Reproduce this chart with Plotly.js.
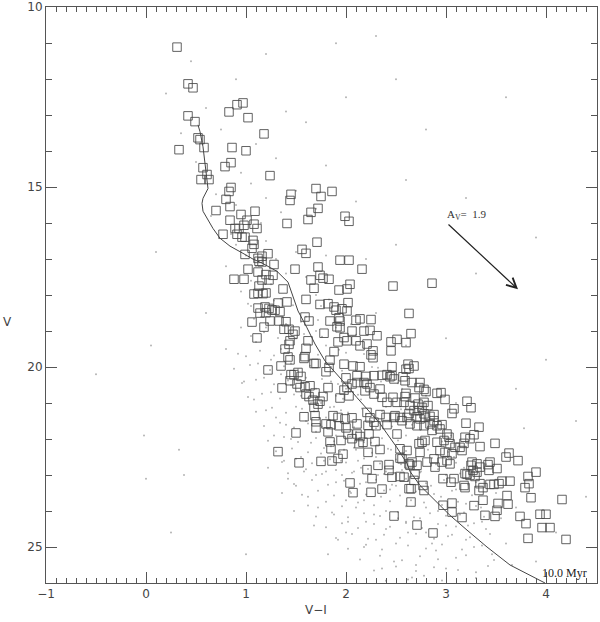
<!DOCTYPE html>
<html>
<head>
<meta charset="utf-8">
<script src="https://cdn.plot.ly/plotly-3.0.1.min.js"></script>
<style>html,body{margin:0;padding:0;background:#fff;}#chart{width:600px;height:622px;}</style>
</head>
<body>
<div id="chart"></div>
<script>
// Open squares: [V-I, V]
const squareStars = [
[0.31,11.11],[0.42,12.13],[0.47,12.24],[0.42,13.02],[0.49,13.18],[0.52,13.63],[0.54,13.68],[0.58,13.90],[0.33,13.96],
[0.83,12.91],[0.91,12.71],[0.97,12.66],[1.02,13.07],[1.18,13.52],[0.86,13.90],[1.00,13.99],[0.85,14.32],[0.79,14.43],
[0.57,14.46],[0.61,14.65],[0.55,14.79],[0.63,14.79],[1.24,14.68],[0.85,15.01],[0.83,15.12],[1.45,15.20],[1.44,15.37],
[0.80,15.34],[0.84,15.54],[0.70,15.65],[1.09,15.67],[0.95,15.76],[1.01,15.92],[0.84,15.92],[1.41,16.01],[0.89,16.15],
[0.98,16.06],[0.93,16.15],[1.08,16.03],[1.11,16.15],[1.70,15.04],[1.75,15.26],[1.86,15.12],[1.72,15.59],[1.65,15.70],
[1.62,15.90],[1.99,15.81],[2.03,15.95],[1.71,16.53],[1.56,16.73],[1.60,16.84],[1.94,17.03],[2.03,17.03],[1.49,17.28],
[1.72,17.22],[2.16,17.28],[1.74,17.45],[1.77,17.53],[1.83,17.56],[1.65,17.58],[2.04,17.70],[2.47,17.75],[2.86,17.67],
[1.68,17.81],[1.93,17.86],[2.01,17.83],[0.91,16.31],[0.96,16.39],[0.99,16.39],[1.07,16.48],[1.08,16.59],[1.06,16.70],
[0.77,16.31],[0.99,16.87],[1.12,16.98],[1.13,17.06],[1.02,17.28],[0.88,17.56],[0.98,17.56],[1.12,17.36],[1.08,17.97],
[1.12,17.95],[1.13,17.75],[1.12,18.36],[1.06,18.75],[1.11,19.19],
[1.16,16.92],[1.16,17.08],[1.22,16.85],[1.28,17.15],[1.20,17.43],[1.27,17.45],[1.16,17.58],[1.23,17.58],[1.17,17.96],
[1.20,17.94],[1.37,17.83],[1.41,18.19],[1.32,18.22],[1.19,18.33],[1.20,18.49],[1.26,18.41],[1.34,18.46],[1.23,18.37],
[1.29,18.42],[1.14,18.50],[1.18,18.89],[1.24,18.72],[1.33,18.72],[1.40,18.74],[1.43,18.95],[1.38,18.95],[1.49,19.00],
[1.47,19.09],[1.44,19.27],[1.43,19.37],[1.39,19.50],[1.42,19.72],[1.22,20.08],[1.35,19.97],[1.44,19.80],[1.48,20.21],
[1.52,20.15],[1.55,20.26],[1.36,20.58],[1.59,19.71],[1.60,19.48],[1.62,19.27],[1.58,19.76],[1.68,19.90],[1.70,19.90],
[1.45,20.21],[1.44,20.38],[1.51,20.47],[1.54,20.57],[1.59,20.55],[1.60,20.75],[1.63,20.82],[1.64,20.52],[1.69,20.72],
[1.77,20.82],[1.72,21.03],[1.74,20.95],[1.67,20.92],[1.68,21.12],[1.82,20.57],[1.58,21.38],[1.69,21.35],[1.70,21.52],
[1.80,21.58],
[1.60,18.12],[1.74,18.26],[1.82,18.24],[1.88,18.33],[1.90,18.42],[1.96,18.38],[2.02,18.21],[2.01,18.44],[1.59,18.61],
[1.63,18.72],[1.84,18.72],[1.93,18.63],[1.94,18.72],[1.94,18.91],[1.91,18.88],[1.78,19.06],[1.98,19.18],[2.01,19.27],
[1.92,19.30],[2.10,18.70],[2.14,18.66],[2.25,18.68],[2.18,19.00],[2.24,18.98],[2.31,19.13],[2.06,19.00],[2.10,19.27],
[2.14,19.41],[2.21,19.36],[2.45,19.30],[1.88,19.57],[1.84,19.81],[1.80,20.13],[1.83,20.01],[1.98,19.92],[2.07,19.97],
[2.14,19.99],[2.00,20.30],[2.11,20.24],[2.20,20.26],[2.28,20.24],[2.36,20.23],[2.41,20.21],[2.46,20.24],[2.25,19.66],
[2.27,19.74],[2.27,19.55],[2.46,19.99],[2.01,20.57],[1.98,20.64],[2.03,20.80],[1.94,20.86],[2.06,20.47],[2.11,20.43],
[2.18,20.43],[2.21,20.47],[2.19,20.66],[2.24,20.57],[2.28,20.75],[2.34,20.61],[2.36,20.84],[2.41,20.98],[2.47,20.84],
[1.87,21.35],[1.92,21.40],[1.99,21.44],[2.06,21.41],[2.21,21.26],[2.24,21.41],[2.28,21.53],[2.34,21.32],[2.40,21.40],
[2.48,21.40],[2.11,21.58],
[2.63,18.51],[2.65,19.07],[2.51,19.23],[2.60,19.32],[2.45,19.55],[2.62,19.92],[2.63,20.04],[2.68,19.97],[2.60,20.06],
[2.44,20.27],[2.48,20.33],[2.57,20.27],[2.59,20.38],[2.66,20.43],[2.74,20.43],[2.73,20.57],[2.78,20.62],[2.80,20.68],
[2.91,20.73],[2.95,20.71],[2.99,20.90],[2.60,20.73],[2.59,20.82],[2.69,20.86],[2.78,20.98],[2.72,21.03],[2.51,20.98],
[2.58,20.98],[2.64,21.07],[2.76,21.12],[2.82,21.07],[2.88,21.32],[2.84,21.37],[2.78,21.30],[2.71,21.38],[2.63,21.29],
[2.49,21.35],[2.54,21.40],[2.73,21.21],[3.08,21.16],[3.06,21.29],[3.21,20.95],[3.25,21.13],
[2.68,21.21],[2.74,21.44],[2.79,21.40],[2.88,21.49],[2.61,21.40],[2.56,21.49],[2.64,21.58],[2.71,21.63],[2.78,21.63],
[2.84,21.58],[2.91,21.63],[2.96,21.60],[2.86,21.76],[2.94,21.72],[3.01,21.86],[3.03,21.95],[2.98,22.04],[3.04,22.13],
[2.91,22.09],[2.79,22.04],[2.73,22.13],[2.76,22.09],[2.61,22.32],[2.74,22.37],[2.56,22.55],[2.66,22.64],[2.71,22.73],
[2.64,22.73],[2.81,22.64],[2.88,22.55],[2.89,22.78],[2.96,22.64],[3.01,22.60],[3.04,22.69],[2.94,22.32],[2.99,22.37],
[3.06,22.41],[3.09,22.23],[3.14,22.23],[3.16,22.32],[3.18,22.12],[3.19,21.95],[3.24,21.99],[3.20,21.56],[3.33,21.67],
[3.28,21.88],[3.34,22.21],[3.49,22.12],[3.63,22.39],[3.60,22.50],[3.72,22.60],[3.26,22.64],[3.31,22.69],[3.34,22.78],
[3.27,22.87],[3.31,22.92],[3.25,22.73],[3.19,22.96],[3.21,22.98],[3.24,23.01],[3.29,23.04],[3.42,22.71],[3.44,22.64],
[3.51,22.82],[3.43,22.87],[2.97,23.10],[3.08,23.10],[3.05,23.20],[3.18,23.29],[3.19,23.35],[3.34,23.24],[3.37,23.35],
[3.33,23.43],[3.44,23.26],[3.48,23.26],[3.53,23.24],[3.56,23.17],[3.64,23.17],[2.65,23.38],[2.78,23.43],[2.77,23.29],
[2.68,23.15],[2.58,23.06],[2.69,22.98],[3.90,22.92],[3.82,23.04],[3.83,23.24],[3.79,23.35],[3.85,23.63],[4.16,23.68],
[3.61,23.57],[3.62,23.81],[3.52,23.79],[3.51,23.98],[3.37,23.70],[3.28,23.85],[3.39,24.12],[3.49,24.15],[3.06,23.78],
[2.97,23.84],[3.06,24.03],[3.16,24.18],[2.65,23.75],[2.71,24.39],[2.87,24.61],[3.74,24.15],[3.80,24.35],[3.94,24.09],
[4.00,24.09],[3.96,24.46],[4.04,24.46],[3.82,24.76],[4.20,24.79],
[1.50,21.83],[1.32,22.35],[1.53,22.66],[1.75,22.62],[1.86,22.61],[1.92,22.54],[1.97,22.42],[1.84,22.08],[1.85,22.27],
[1.70,21.69],[1.82,21.80],[1.85,21.60],[1.93,21.63],[2.00,21.69],[2.02,21.86],[1.95,22.04],[2.06,21.99],[2.11,21.86],
[2.13,22.13],[2.17,22.09],[2.14,21.93],[2.22,22.37],[2.29,22.07],[2.34,22.29],[2.23,21.86],[2.22,21.62],[2.30,21.63],
[2.41,21.60],[2.32,22.73],[2.43,22.71],[2.43,22.87],[2.46,23.06],[2.54,23.04],[2.21,22.85],[2.26,23.10],[2.36,23.39],
[2.25,23.48],[2.07,23.49],[2.04,23.22],[2.48,24.14],[2.54,22.53],[2.63,22.69],[2.54,22.27],[2.51,21.86],[2.63,23.38]
];

// Faint field stars (small dots), sparse part: [V-I, V]
const fieldStarsSparse = [
[-0.02,21.9],[0.33,22.3],[0.60,18.5],[0.10,16.8],[3.60,12.5],[3.20,15.3],[4.00,19.8],[4.30,21.5],[2.80,13.4],[3.90,16.4],
[-0.50,20.2],[0.25,24.6],[1.00,25.2],[4.40,23.6],[2.50,12.0],[1.90,11.0],[0.05,19.4],[3.70,20.6],[0.00,23.1],[0.38,23.0],
[0.45,11.5],[0.90,12.0],[1.20,11.3],[0.60,12.8],[1.40,12.9],[0.35,13.5],[0.75,13.4],[1.10,13.8],[1.60,13.2],[0.50,14.3],
[0.95,14.6],[1.30,14.2],[2.30,10.8],[2.00,12.5],[1.80,14.4],[0.20,12.4],[0.70,15.2],[0.90,15.5],[1.05,14.9],[1.20,15.3],
[1.35,15.7],[1.50,15.1],[0.65,15.8],[1.70,15.6],[1.15,16.0],[0.85,16.3],[2.10,15.4],[2.60,14.8],[0.90,16.6],[1.00,16.9],
[1.10,17.2],[1.20,16.5],[1.30,17.0],[1.40,17.4],[1.25,17.7],[1.05,17.6],[0.95,17.9],[1.50,16.8],[1.60,17.5],[1.80,16.9],
[1.15,18.0],[1.35,18.1],[1.70,18.0],[2.20,17.0],[0.80,17.2],[2.50,16.6],[3.30,17.4],[1.05,18.3],[1.15,18.6],[1.20,18.9],
[1.30,18.4],[1.40,18.8],[1.50,19.2],[1.35,19.5],[1.25,19.8],[1.45,19.9],[1.60,18.6],[1.70,19.0],[1.55,19.6],[1.65,19.8],
[1.80,19.4],[1.90,18.9],[1.10,19.3],[1.00,19.7],[1.75,18.3],[2.00,19.6],[2.10,19.1],[1.85,20.0],[0.95,18.9],[2.30,18.5],
[2.60,19.4],[3.00,19.2],[0.80,19.5],[1.35,20.2],[1.45,20.5],[1.55,20.8],[1.60,20.3],[1.70,20.6],[1.75,21.0],[1.85,20.4],
[1.90,20.8],[1.95,21.2],[2.00,20.6],[2.05,21.5],[2.15,20.9],[2.20,21.3],[2.30,21.7],[1.50,21.1],[1.60,21.5],[1.70,21.8],
[1.80,21.4],[1.90,21.9],[2.10,21.8],[2.40,21.1],[2.50,21.5],[2.60,21.9],[2.70,21.3],[1.25,20.7],[1.40,21.6],[2.35,20.4],
[2.80,20.8],[1.20,21.2],[3.10,21.0],[2.95,21.6],[1.65,22.1],[1.75,22.4],[1.85,22.2],[1.95,22.6],[2.00,22.0],[2.10,22.3],
[2.15,22.8],[2.25,22.1],[2.30,22.5],[2.40,22.9],[2.45,22.3],[2.55,22.7],[2.60,23.1],[2.70,22.5],[2.75,22.9],[2.85,23.3],
[2.90,22.7],[3.00,23.0],[3.10,23.4],[1.80,22.9],[1.90,23.2],[2.05,23.5],[2.20,23.2],[2.35,23.6],[2.50,23.3],[2.65,23.7],
[2.80,23.9],[2.95,23.6],[3.20,23.8],[3.30,23.2],[1.70,23.0],[2.10,23.9],[2.40,24.0],[1.55,22.5],[3.40,22.7],[2.00,23.7],
[1.50,23.3],[3.50,23.5],[2.20,24.3],[2.40,24.5],[2.60,24.3],[2.80,24.6],[3.00,24.4],[3.20,24.8],[3.40,24.5],[2.50,24.9],
[2.90,25.1],[3.10,25.3],[2.30,24.8],[3.60,24.9],[2.70,25.5],[3.30,25.7],[2.00,24.6],[1.28,21.9],[1.38,22.6],[1.45,22.0],
[1.58,22.9],[1.62,23.6],[1.72,23.9],[1.78,22.6],[1.88,24.1],[1.96,23.0],[2.02,24.3],[2.12,22.6],[2.18,23.7],[2.28,24.1],
[2.32,23.0],[2.44,23.4],[2.52,24.2],[2.58,22.4],[2.62,24.6],[2.68,23.5],[2.74,24.2],[2.82,22.3],[2.86,24.9],[2.92,24.0],
[3.02,24.7],[3.08,22.5],[3.14,24.1],[3.22,24.4],[3.28,25.0],[3.36,24.3],[3.46,25.2],[3.55,24.2],[3.66,25.5],[1.18,20.3],
[1.08,20.9],[1.30,21.4],[1.42,23.1],[1.68,24.4],[1.92,24.8],[2.18,25.0],[2.48,25.4],[2.78,25.8],[3.00,25.6],[1.12,19.9],
[0.98,20.4],[1.88,21.1],[2.26,20.0],[2.56,20.6],[2.66,21.6],[3.18,22.8],[3.05,21.9],[3.35,23.9],[3.70,23.9],[1.22,22.8],
[1.48,24.0],[1.36,23.5],[1.82,25.2],[2.36,25.6],[2.62,25.9],[3.90,25.4],[4.10,24.6],[3.78,21.7],[1.98,22.3],[2.08,22.9]
];

// Faint field stars, dense band: [V-I, V]
const fieldStarsBand = [
[1.02,18.24],[1.28,18.15],[1.47,18.28],[1.83,18.12],
[1.08,18.66],[1.22,18.78],[1.36,18.62],[1.55,18.74],[1.72,18.69],[2.05,18.81],
[1.05,19.14],[1.18,19.03],[1.32,19.19],[1.58,19.08],[1.76,19.16],[1.95,19.05],
[0.92,19.63],[1.14,19.55],[1.28,19.68],[1.42,19.58],[1.72,19.66],[1.93,19.52],[2.18,19.64],
[0.88,20.05],[1.04,19.94],[1.24,20.08],[1.38,19.98],[1.52,20.06],[1.64,19.96],[1.96,20.10],[2.32,20.02],
[0.96,20.44],[1.10,20.35],[1.28,20.48],[1.42,20.37],[1.58,20.43],[1.76,20.33],[1.92,20.47],[2.14,20.38],[2.52,20.45],
[1.02,20.83],[1.16,20.74],[1.34,20.87],[1.48,20.76],[1.62,20.85],[1.80,20.72],[1.97,20.88],[2.12,20.77],[2.31,20.84],[2.64,20.76],
[1.10,21.24],[1.26,21.13],[1.40,21.27],[1.56,21.16],[1.68,21.23],[1.84,21.12],[2.02,21.26],[2.16,21.15],[2.36,21.22],[2.55,21.17],
[1.18,21.64],[1.34,21.55],[1.48,21.68],[1.62,21.57],[1.76,21.66],[1.95,21.53],[2.08,21.67],[2.24,21.56],[2.46,21.65],[2.68,21.55],[2.90,21.64],
[1.22,22.05],[1.38,21.94],[1.52,22.08],[1.70,21.97],[1.88,22.06],[2.04,21.93],[2.18,22.09],[2.36,21.98],[2.52,22.04],[2.72,21.95],[2.96,22.07],
[1.30,22.34],[1.46,22.26],[1.62,22.37],[1.78,22.25],[1.94,22.35],[2.08,22.24],[2.26,22.38],[2.42,22.27],[2.60,22.33],[2.78,22.22],[3.02,22.36],
[1.36,22.64],[1.50,22.55],[1.66,22.67],[1.84,22.56],[2.00,22.65],[2.18,22.54],[2.34,22.68],[2.50,22.57],[2.70,22.63],[2.86,22.53],[3.10,22.66],
[1.42,22.95],[1.60,22.84],[1.76,22.97],[1.90,22.86],[2.06,22.94],[2.22,22.83],[2.38,22.97],[2.56,22.86],[2.74,22.93],[2.92,22.84],[3.14,22.96],
[1.48,23.25],[1.66,23.14],[1.82,23.27],[1.98,23.16],[2.14,23.24],[2.30,23.13],[2.46,23.27],[2.62,23.16],[2.80,23.23],[2.98,23.14],[3.22,23.26],
[1.56,23.55],[1.72,23.44],[1.88,23.57],[2.04,23.46],[2.20,23.54],[2.38,23.43],[2.54,23.57],[2.70,23.46],[2.88,23.53],[3.06,23.44],[3.26,23.56],
[1.62,23.85],[1.80,23.74],[1.96,23.87],[2.12,23.76],[2.28,23.84],[2.44,23.73],[2.60,23.87],[2.78,23.76],[2.96,23.83],[3.12,23.74],[3.30,23.86],
[1.70,24.15],[1.86,24.04],[2.02,24.17],[2.18,24.06],[2.34,24.14],[2.52,24.03],[2.68,24.17],[2.84,24.06],[3.00,24.13],[3.18,24.04],[3.38,24.16],
[1.80,24.45],[1.96,24.34],[2.12,24.47],[2.28,24.36],[2.44,24.44],[2.60,24.33],[2.76,24.47],[2.92,24.36],[3.10,24.43],[3.28,24.34],
[1.90,24.75],[2.06,24.64],[2.22,24.77],[2.38,24.66],[2.54,24.74],[2.70,24.63],[2.88,24.77],[3.06,24.66],[3.24,24.73],[3.44,24.64],
[2.02,25.05],[2.20,24.94],[2.36,25.07],[2.62,24.96],[2.80,25.04],[2.96,24.93],[3.16,25.07],[3.36,24.96],
[2.14,25.35],[2.34,25.24],[2.56,25.37],[2.74,25.26],[2.92,25.34],[3.20,25.23],[3.48,25.36],
[2.28,25.65],[2.50,25.54],[2.70,25.67],[2.88,25.56],[3.12,25.64],[3.42,25.53],
[2.40,25.94],[2.66,25.85],[2.96,25.93],[3.30,25.86]
];

// 10 Myr isochrone: [V-I, V]
const isochrone = [
[0.52,13.27],[0.54,13.46],[0.57,13.88],[0.59,14.37],[0.61,14.84],[0.62,15.04],[0.57,15.31],[0.56,15.45],[0.57,15.67],
[0.62,15.90],[0.67,16.15],[0.74,16.42],[0.84,16.64],[0.97,16.84],[1.07,17.00],[1.16,17.11],[1.31,17.34],[1.42,17.64],
[1.47,18.03],[1.52,18.44],[1.61,18.91],[1.69,19.36],[1.79,19.83],[1.91,20.19],[2.01,20.52],[2.11,20.85],[2.24,21.27],
[2.34,21.57],[2.41,21.85],[2.51,22.24],[2.61,22.68],[2.64,22.90],[2.74,23.29],[2.87,23.65],[3.04,24.12],[3.21,24.53],
[3.41,25.00],[3.64,25.50],[3.87,25.83],[3.99,26.00]
];

// Reddening vector: start and end [V-I, V]
const reddeningStart = [3.01, 16.00];
const reddeningEnd = [3.72, 17.84];
const reddeningLabel = "A<sub>V</sub>=\u00a0\u00a01.9";
const isochroneLabel = "10.0 Myr";
const isochroneLabelPos = [3.97, 25.72];

const xTicks = [-1, 0, 1, 2, 3, 4];
const yTicks = [10, 15, 20, 25];

const axisColor = '#555';
const fontFam = '"DejaVu Sans", "Liberation Sans", sans-serif';
const serifFam = '"Liberation Serif", "DejaVu Serif", serif';

const fieldStars = fieldStarsSparse.concat(fieldStarsBand);

const traces = [
  {
    type: 'scatter', mode: 'markers',
    x: fieldStars.map(p => p[0]), y: fieldStars.map(p => p[1]),
    marker: {size: 2, color: 'rgba(140,140,140,0.65)'},
    hoverinfo: 'skip'
  },
  {
    type: 'scatter', mode: 'markers',
    x: squareStars.map(p => p[0]), y: squareStars.map(p => p[1]),
    marker: {symbol: 'square-open', size: 8.5, color: 'rgba(70,70,70,0.85)', line: {width: 1, color: 'rgba(70,70,70,0.85)'}}
  },
  {
    type: 'scatter', mode: 'lines',
    x: isochrone.map(p => p[0]), y: isochrone.map(p => p[1]),
    line: {color: '#444', width: 1}
  }
];

const layout = {
  width: 600, height: 622,
  margin: {l: 46, r: 3, t: 7, b: 39},
  paper_bgcolor: '#fff', plot_bgcolor: '#fff',
  showlegend: false,
  font: {family: fontFam, size: 12, color: '#444'},
  xaxis: {
    range: [-1, 4.51], showgrid: false, zeroline: false,
    showline: true, linecolor: axisColor, linewidth: 1, mirror: 'ticks',
    tickmode: 'array', tickvals: xTicks, ticktext: xTicks.map(v => v < 0 ? '\u2212' + Math.abs(v) : String(v)),
    ticks: 'inside', ticklen: 11, tickcolor: axisColor, tickwidth: 1,
    ticklabeloverflow: 'allow',
    minor: {dtick: 0.1, tick0: -1, ticks: 'inside', ticklen: 5, tickcolor: axisColor, tickwidth: 1},
    tickfont: {family: fontFam, size: 12, color: '#444'}
  },
  yaxis: {
    range: [26, 9.995], showgrid: false, zeroline: false,
    showline: true, linecolor: axisColor, linewidth: 1, mirror: 'ticks',
    tickmode: 'array', tickvals: yTicks, ticktext: yTicks.map(String),
    ticks: 'inside', ticklen: 11, tickcolor: axisColor, tickwidth: 1,
    ticklabeloverflow: 'allow',
    minor: {dtick: 1, tick0: 10, ticks: 'inside', ticklen: 6, tickcolor: axisColor, tickwidth: 1},
    tickfont: {family: fontFam, size: 12, color: '#444'}
  },
  annotations: [
    {x: reddeningEnd[0], y: reddeningEnd[1], ax: reddeningStart[0], ay: reddeningStart[1],
     xref: 'x', yref: 'y', axref: 'x', ayref: 'y', text: '', showarrow: true,
     arrowhead: 5, arrowsize: 1.6, arrowwidth: 1.2, arrowcolor: '#222'},
    {x: reddeningStart[0], y: reddeningStart[1], xref: 'x', yref: 'y', text: reddeningLabel,
     showarrow: false, xanchor: 'left', yanchor: 'bottom', xshift: -2, yshift: -1,
     font: {family: serifFam, size: 11, color: '#333'}},
    {x: isochroneLabelPos[0], y: isochroneLabelPos[1], xref: 'x', yref: 'y', text: isochroneLabel,
     showarrow: false, xanchor: 'left', yanchor: 'middle', xshift: -3,
     font: {family: serifFam, size: 12, color: '#222'}},
    {x: -0.069, y: 0.453, xref: 'paper', yref: 'paper', text: 'V', showarrow: false,
     xanchor: 'center', yanchor: 'middle', font: {family: fontFam, size: 12, color: '#444'}},
    {x: 0.49, y: -0.047, xref: 'paper', yref: 'paper', text: 'V\u2212I', showarrow: false,
     xanchor: 'center', yanchor: 'middle', font: {family: fontFam, size: 12, color: '#444'}}
  ]
};

Plotly.newPlot('chart', traces, layout, {displayModeBar: false, staticPlot: true});
</script>
</body>
</html>
